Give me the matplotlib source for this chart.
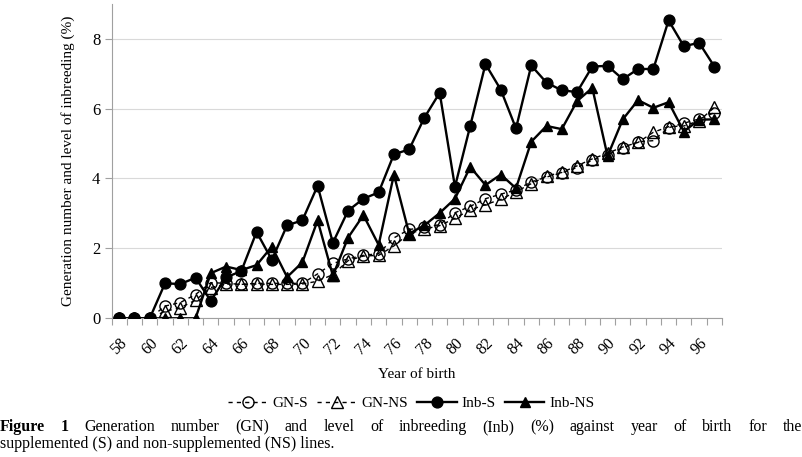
import matplotlib
matplotlib.use('Agg')
import matplotlib.pyplot as plt
from matplotlib.ticker import FixedLocator, NullFormatter
import numpy as np

plt.rcParams['font.family'] = ['Liberation Serif', 'DejaVu Serif']

years = list(range(58, 98))
tick_years = list(range(58, 98, 2))

gn_s = [0, 0, 0, 0.35, 0.45, 0.68, 1.02, 1.0, 0.97, 1.0,
        1.0, 1.0, 1.0, 1.27, 1.57, 1.70, 1.80, 1.85, 2.30, 2.54,
        2.60, 2.68, 3.02, 3.20, 3.42, 3.55, 3.67, 3.90, 4.04, 4.16,
        4.31, 4.52, 4.68, 4.87, 5.05, 5.08, 5.45, 5.58, 5.70, 5.88]
gn_ns = [0, 0, 0, 0.20, 0.30, 0.52, 0.88, 0.98, 0.97, 0.98,
         0.97, 0.97, 0.98, 1.06, 1.25, 1.65, 1.78, 1.80, 2.07, 2.42,
         2.55, 2.65, 2.86, 3.10, 3.25, 3.40, 3.62, 3.85, 4.07, 4.17,
         4.36, 4.56, 4.72, 4.90, 5.03, 5.32, 5.48, 5.50, 5.65, 6.03]
inb_s = [0, 0, 0, 1.0, 0.98, 1.16, 0.50, 1.17, 1.35, 2.47,
         1.67, 2.66, 2.80, 3.79, 2.16, 3.08, 3.42, 3.60, 4.69, 4.83,
         5.74, 6.45, 3.76, 5.50, 7.27, 6.54, 5.43, 7.23, 6.74, 6.52,
         6.47, 7.20, 7.22, 6.84, 7.13, 7.13, 8.52, 7.78, 7.88, 7.20]
inb_ns = [0, 0, 0, 0, 0, 0, 1.29, 1.48, 1.38, 1.52,
          2.05, 1.18, 1.60, 2.80, 1.22, 2.31, 2.95, 2.10, 4.11, 2.42,
          2.66, 3.01, 3.42, 4.33, 3.81, 4.11, 3.72, 5.05, 5.50, 5.41,
          6.21, 6.59, 4.64, 5.69, 6.24, 6.02, 6.18, 5.34, 5.68, 5.69]

W, H = 803, 457
fig = plt.figure(figsize=(W / 100, H / 100), dpi=100)
ax = fig.add_axes([111.6 / W, 1 - 318.3 / H, 610.4 / W, 314.7 / H])

x = np.arange(len(years))
ax.plot(x, gn_s, color='black', lw=1, ls=(0, (3, 3)), marker='o', ms=8,
        mfc='none', mec='black', mew=1, label='GN-S', zorder=3)
ax.plot(x, gn_ns, color='black', lw=1, ls=(0, (3, 3)), marker='^', ms=8,
        mfc='none', mec='black', mew=1, label='GN-NS', zorder=3)
ax.plot(x, inb_s, color='black', lw=1.7, marker='o', ms=7.8,
        label='Inb-S', zorder=4)
ax.plot(x, inb_ns, color='black', lw=1.7, marker='^', ms=7.8,
        label='Inb-NS', zorder=5)

ax.set_xlim(-0.5, len(years) - 0.5)
ax.set_ylim(0, 9)
ax.set_yticks([0, 2, 4, 6, 8])
ax.yaxis.grid(True, color='#d9d9d9', lw=0.8)
ax.set_axisbelow(True)

# category boundaries get the tick marks, every other category gets a label
ax.xaxis.set_major_locator(FixedLocator(np.arange(-0.5, len(years), 1.0)))
ax.xaxis.set_major_formatter(NullFormatter())
ax.xaxis.set_minor_locator(FixedLocator([years.index(y) for y in tick_years]))
ax.set_xticklabels([str(y) for y in tick_years], minor=True, rotation=45,
                   ha='right', va='top', rotation_mode='anchor', fontsize=11.5)
ax.tick_params(axis='x', which='major', length=5, color='#a0a0a0')
ax.tick_params(axis='x', which='minor', length=0, pad=12)
ax.tick_params(axis='y', length=5, color='#a0a0a0', labelsize=12, pad=3)

for s in ['top', 'right']:
    ax.spines[s].set_visible(False)
for s in ['left', 'bottom']:
    ax.spines[s].set_color('#a0a0a0')
    ax.spines[s].set_linewidth(0.8)

ax.set_ylabel('Generation number and level of inbreeding (%)', fontsize=11)
ax.yaxis.set_label_coords(-(111.6 - 75) / 610.4, 0.5)
ax.set_xlabel('Year of birth', fontsize=11)
ax.xaxis.set_label_coords(0.5, -(375 - 318.3) / 314.7)
ax.xaxis.label.set_va('center')

fig.legend(loc='center', bbox_to_anchor=(411 / W, 1 - 403 / H), ncol=4,
           frameon=False, fontsize=11, handlelength=2.6, handletextpad=0.3,
           columnspacing=0.6, borderaxespad=0)

# caption, first line justified across the width
words = ['Figure', '1', 'Generation', 'number', '(GN)', 'and', 'level', 'of',
         'inbreeding', '(Inb)', '(%)', 'against', 'year', 'of', 'birth',
         'for', 'the']
cap_size = 11.5
texts = []
for i, w in enumerate(words):
    texts.append(fig.text(0, 1 - 427 / H, w, fontsize=cap_size, va='center',
                          fontweight='bold' if i < 2 else 'normal'))
renderer = fig.canvas.get_renderer()
widths = [t.get_window_extent(renderer).width for t in texts]
gap = (W - 1 - sum(widths)) / (len(words) - 1)
pos = 0.0
for t, w in zip(texts, widths):
    t.set_x(pos / W)
    pos += w + gap
fig.text(0, 1 - 444 / H, 'supplemented (S) and non-supplemented (NS) lines.',
         fontsize=cap_size, va='center')

fig.savefig('out.png', dpi=100)
